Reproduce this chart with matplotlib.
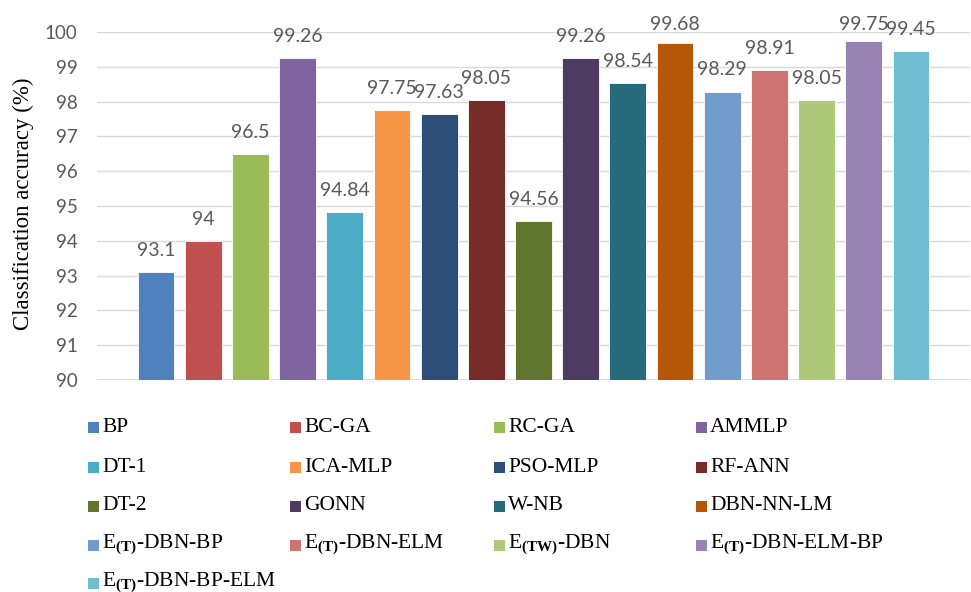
import matplotlib
matplotlib.use("Agg")
import matplotlib.pyplot as plt
from matplotlib.patches import Rectangle

methods = ["BP", "BC-GA", "RC-GA", "AMMLP", "DT-1", "ICA-MLP", "PSO-MLP", "RF-ANN",
           "DT-2", "GONN", "W-NB", "DBN-NN-LM",
           r"E$_{\mathbf{(T)}}$-DBN-BP", r"E$_{\mathbf{(T)}}$-DBN-ELM",
           r"E$_{\mathbf{(TW)}}$-DBN", r"E$_{\mathbf{(T)}}$-DBN-ELM-BP",
           r"E$_{\mathbf{(T)}}$-DBN-BP-ELM"]
accuracy = [93.1, 94, 96.5, 99.26, 94.84, 97.75, 97.63, 98.05,
            94.56, 99.26, 98.54, 99.68, 98.29, 98.91, 98.05, 99.75, 99.45]
value_labels = ["93.1", "94", "96.5", "99.26", "94.84", "97.75", "97.63", "98.05",
                "94.56", "99.26", "98.54", "99.68", "98.29", "98.91", "98.05", "99.75", "99.45"]
colors = ["#4F81BD", "#C0504D", "#9BBB59", "#8064A2", "#4BACC6", "#F79646",
          "#2C4D75", "#772C2A", "#5F7530", "#4D3B62", "#276A7C", "#B65708",
          "#729ACA", "#CD7371", "#AFC97A", "#9983B5", "#6FBDD1"]
yticks = [90, 91, 92, 93, 94, 95, 96, 97, 98, 99, 100]

plt.rcParams["mathtext.fontset"] = "custom"
plt.rcParams["mathtext.rm"] = "Liberation Serif"
plt.rcParams["mathtext.bf"] = "Liberation Serif:bold"

W, H = 971, 592
fig = plt.figure(figsize=(W / 100, H / 100), dpi=100)
ax = fig.add_axes([97 / W, 1 - 380 / H, 873 / W, 348 / H])

x = list(range(len(methods)))
ax.bar(x, [v - 90 for v in accuracy], bottom=90, width=0.78, color=colors,
       edgecolor="white", linewidth=0.6, zorder=3)

# value labels sit a fixed gap above each bar, but never past the top of the plot area
gap = 0.46
label_ceiling = 100.06
for xi, v, lab in zip(x, accuracy, value_labels):
    ax.text(xi, min(v + gap, label_ceiling), lab, ha="center", va="baseline",
            fontsize=14, color="#595959", family="Lato", zorder=4, clip_on=False)

ax.set_xlim(-1.25, len(methods) - 1 + 1.25)
ax.set_ylim(90, 100)
ax.set_yticks(yticks)
ax.set_yticklabels([str(t) for t in yticks], family="Lato", fontsize=13.5, color="#595959")
ax.set_xticks([])
ax.tick_params(axis="y", length=0, pad=14)
ax.grid(axis="y", color="#D9D9D9", linewidth=1.0, zorder=0)
for s in ax.spines.values():
    s.set_visible(False)
ax.axhline(90, color="#D9D9D9", linewidth=1.2, zorder=1)

fig.text(23 / W, 1 - 204 / H, "Classification accuracy (%)", rotation=90,
         ha="center", va="center", family="Liberation Serif", fontsize=16.5, color="#000000")

# legend laid out row by row, four entries per row
col_x = [88, 290, 494, 696]
row_y = [427, 467, 506, 545, 583]
sq = 11
for i, (name, c) in enumerate(zip(methods, colors)):
    r, cidx = divmod(i, 4)
    px, py = col_x[cidx], row_y[r]
    fig.patches.append(Rectangle((px / W, 1 - (py + sq / 2) / H), sq / W, sq / H,
                                 transform=fig.transFigure, facecolor=c,
                                 edgecolor="none"))
    fig.text((px + sq + 3) / W, 1 - py / H, name, ha="left", va="center",
             family="Liberation Serif", fontsize=15.5, color="#000000")

fig.savefig("out.png", dpi=100)
